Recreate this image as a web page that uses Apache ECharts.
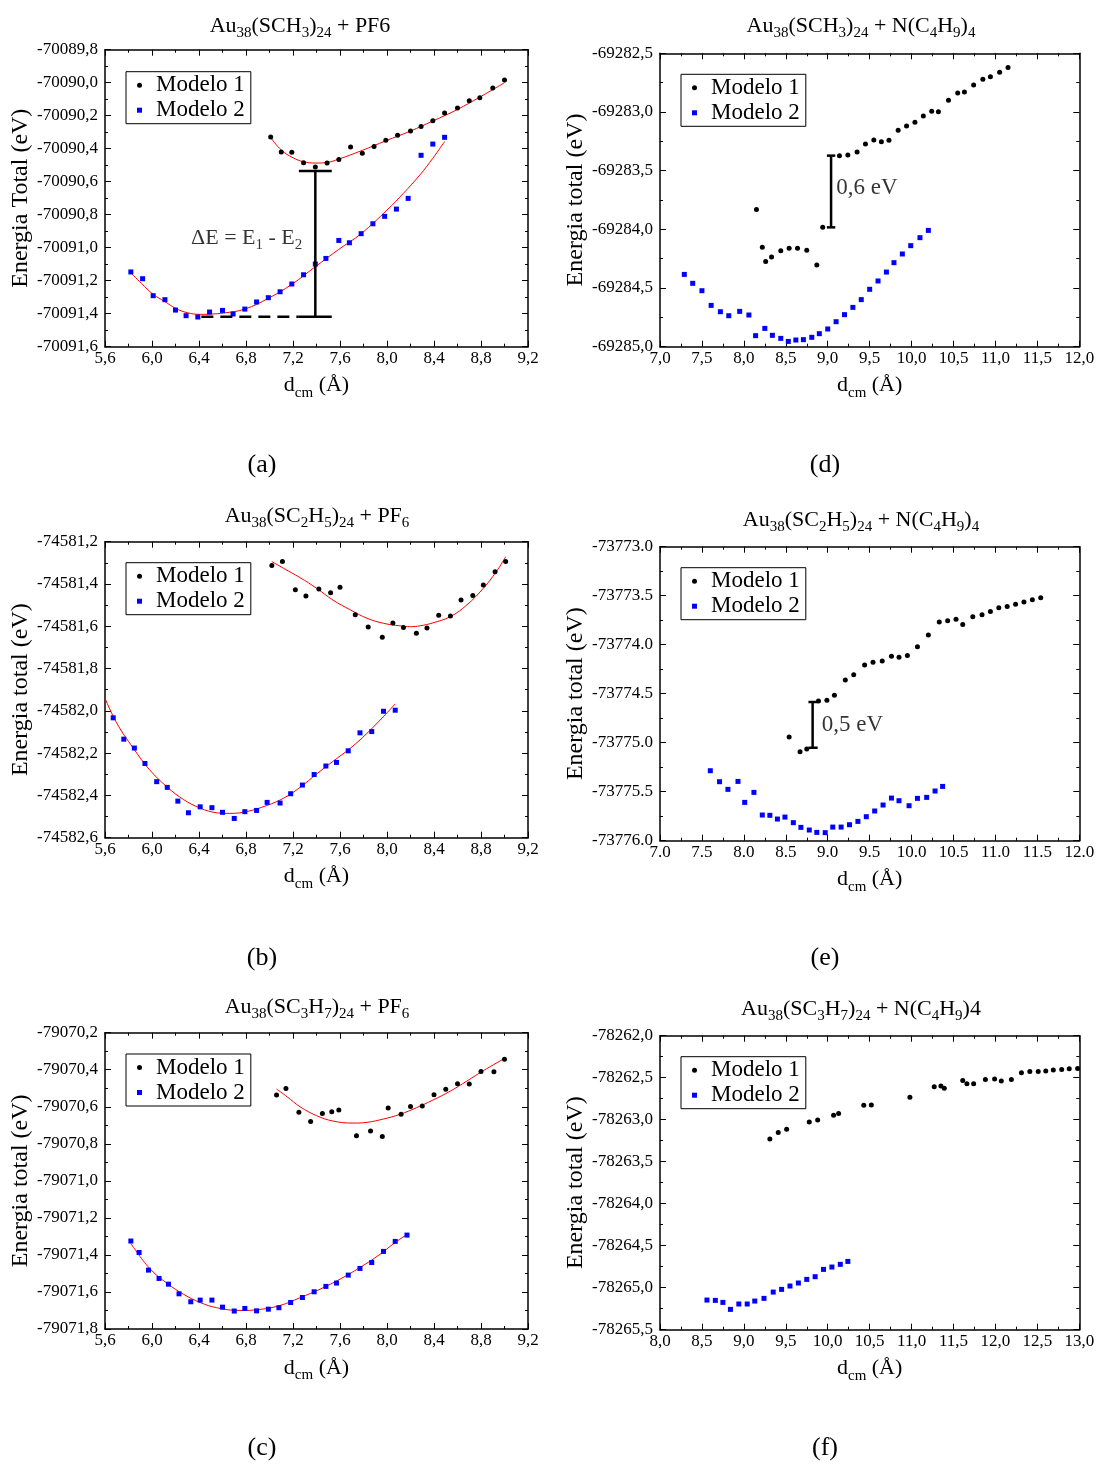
<!DOCTYPE html>
<html>
<head>
<meta charset="utf-8">
<title>Au38 - energia total vs dcm</title>
<script src="https://cdn.jsdelivr.net/npm/echarts@6/dist/echarts.min.js"></script>
<style>
    html, body { margin: 0; padding: 0; background: #fff; }
    #main { width: 1098px; height: 1464px; }
</style>
</head>
<body>
<div id="main"></div>
<script>
// ---- (a) Au38(SCH3)24 + PF6
var a1x = [7.01, 7.10, 7.19, 7.29, 7.39, 7.49, 7.59, 7.69, 7.79, 7.89, 7.99, 8.09, 8.20, 8.29, 8.39, 8.49, 8.60, 8.70, 8.79, 8.90, 9.00];
var a1y = [-70090.329, -70090.420, -70090.422, -70090.485, -70090.511, -70090.487, -70090.465, -70090.390, -70090.428, -70090.386, -70090.349, -70090.319, -70090.293, -70090.265, -70090.230, -70090.184, -70090.154, -70090.109, -70090.091, -70090.032, -70089.984];
var a2x = [5.82, 5.92, 6.01, 6.11, 6.20, 6.29, 6.39, 6.49, 6.60, 6.69, 6.79, 6.89, 6.99, 7.09, 7.19, 7.29, 7.39, 7.48, 7.59, 7.68, 7.78, 7.88, 7.98, 8.08, 8.18, 8.29, 8.39, 8.49];
var a2y = [-70091.147, -70091.188, -70091.291, -70091.315, -70091.378, -70091.412, -70091.420, -70091.390, -70091.380, -70091.402, -70091.372, -70091.329, -70091.303, -70091.267, -70091.220, -70091.164, -70091.099, -70091.065, -70090.956, -70090.970, -70090.915, -70090.855, -70090.810, -70090.766, -70090.701, -70090.440, -70090.372, -70090.331];
// curvas de ajuste
var fitA1x = [7.01, 7.10, 7.20, 7.29, 7.39, 7.49, 7.59, 7.79, 7.99, 8.20, 8.39, 8.60, 8.79, 9.00];
var fitA1y = [-70090.333, -70090.408, -70090.455, -70090.479, -70090.487, -70090.483, -70090.463, -70090.410, -70090.352, -70090.293, -70090.232, -70090.162, -70090.087, -70090.000];
var fitA2x = [5.81, 5.91, 6.01, 6.11, 6.20, 6.30, 6.41, 6.51, 6.61, 6.79, 6.99, 7.19, 7.39, 7.59, 7.78, 8.00, 8.14, 8.28, 8.39, 8.49];
var fitA2y = [-70091.145, -70091.216, -70091.283, -70091.327, -70091.367, -70091.394, -70091.404, -70091.402, -70091.396, -70091.372, -70091.307, -70091.222, -70091.115, -70091.010, -70090.915, -70090.772, -70090.670, -70090.559, -70090.458, -70090.357];

// ---- (d) Au38(SCH3)24 + N(C4H9)4
var d1x = [8.15, 8.22, 8.26, 8.33, 8.44, 8.54, 8.64, 8.75, 8.87, 8.94, 9.14, 9.24, 9.35, 9.45, 9.55, 9.64, 9.73, 9.84, 9.94, 10.04, 10.14, 10.24, 10.32, 10.44, 10.55, 10.63, 10.74, 10.85, 10.94, 11.05, 11.15];
var d1y = [-69283.832, -69284.153, -69284.273, -69284.236, -69284.182, -69284.162, -69284.162, -69284.179, -69284.304, -69283.983, -69283.372, -69283.366, -69283.341, -69283.273, -69283.239, -69283.253, -69283.241, -69283.156, -69283.119, -69283.088, -69283.034, -69282.994, -69282.997, -69282.901, -69282.838, -69282.830, -69282.770, -69282.722, -69282.699, -69282.662, -69282.622];
var d2x = [7.29, 7.39, 7.50, 7.61, 7.72, 7.82, 7.95, 8.06, 8.14, 8.25, 8.34, 8.44, 8.53, 8.62, 8.71, 8.81, 8.90, 9.00, 9.10, 9.20, 9.30, 9.40, 9.50, 9.60, 9.70, 9.79, 9.89, 9.99, 10.10, 10.20];
var d2y = [-69284.384, -69284.460, -69284.523, -69284.648, -69284.702, -69284.736, -69284.699, -69284.730, -69284.906, -69284.844, -69284.903, -69284.929, -69284.955, -69284.943, -69284.940, -69284.920, -69284.889, -69284.849, -69284.787, -69284.727, -69284.665, -69284.599, -69284.511, -69284.440, -69284.364, -69284.284, -69284.210, -69284.139, -69284.071, -69284.009];

// ---- (b) Au38(SC2H5)24 + PF6
var b1x = [7.02, 7.11, 7.22, 7.31, 7.42, 7.52, 7.60, 7.73, 7.84, 7.96, 8.05, 8.14, 8.25, 8.34, 8.44, 8.54, 8.63, 8.73, 8.82, 8.92, 9.01];
var b1y = [-74581.313, -74581.294, -74581.427, -74581.457, -74581.424, -74581.441, -74581.416, -74581.546, -74581.603, -74581.652, -74581.584, -74581.606, -74581.633, -74581.608, -74581.548, -74581.551, -74581.476, -74581.454, -74581.405, -74581.342, -74581.294];
var b2x = [5.67, 5.76, 5.85, 5.94, 6.04, 6.13, 6.22, 6.31, 6.41, 6.51, 6.60, 6.70, 6.79, 6.89, 6.98, 7.09, 7.18, 7.28, 7.38, 7.48, 7.57, 7.67, 7.77, 7.87, 7.97, 8.07];
var b2y = [-74582.033, -74582.134, -74582.176, -74582.249, -74582.335, -74582.362, -74582.427, -74582.482, -74582.454, -74582.458, -74582.480, -74582.509, -74582.477, -74582.471, -74582.433, -74582.436, -74582.392, -74582.351, -74582.301, -74582.261, -74582.244, -74582.189, -74582.104, -74582.098, -74582.002, -74581.997];
var fitB1x = [7.02, 7.12, 7.26, 7.40, 7.54, 7.69, 7.83, 7.97, 8.11, 8.20, 8.28, 8.39, 8.54, 8.68, 8.82, 8.93, 9.01];
var fitB1y = [-74581.294, -74581.326, -74581.370, -74581.420, -74581.476, -74581.523, -74581.562, -74581.586, -74581.598, -74581.602, -74581.598, -74581.584, -74581.554, -74581.499, -74581.420, -74581.342, -74581.271];
var fitB2x = [5.60, 5.70, 5.84, 5.98, 6.13, 6.27, 6.41, 6.55, 6.66, 6.81, 6.98, 7.12, 7.26, 7.40, 7.54, 7.69, 7.83, 7.97, 8.07];
var fitB2y = [-74581.940, -74582.058, -74582.176, -74582.279, -74582.361, -74582.420, -74582.460, -74582.482, -74582.485, -74582.476, -74582.447, -74582.413, -74582.362, -74582.299, -74582.239, -74582.176, -74582.106, -74582.027, -74581.967];

// ---- (e) Au38(SC2H5)24 + N(C4H9)4
var e1x = [8.54, 8.67, 8.75, 8.89, 8.99, 9.08, 9.21, 9.31, 9.44, 9.54, 9.65, 9.76, 9.85, 9.95, 10.07, 10.20, 10.33, 10.43, 10.53, 10.61, 10.73, 10.84, 10.94, 11.04, 11.14, 11.24, 11.34, 11.44, 11.54];
var e1y = [-73774.942, -73775.092, -73775.065, -73774.575, -73774.568, -73774.517, -73774.361, -73774.306, -73774.207, -73774.180, -73774.167, -73774.119, -73774.129, -73774.109, -73774.020, -73773.901, -73773.769, -73773.755, -73773.741, -73773.793, -73773.714, -73773.694, -73773.660, -73773.622, -73773.609, -73773.588, -73773.565, -73773.541, -73773.520];
var e2x = [7.60, 7.71, 7.81, 7.93, 8.01, 8.12, 8.22, 8.31, 8.40, 8.49, 8.59, 8.68, 8.78, 8.87, 8.97, 9.06, 9.16, 9.26, 9.36, 9.46, 9.56, 9.66, 9.76, 9.85, 9.97, 10.07, 10.18, 10.28, 10.37];
var e2y = [-73775.286, -73775.398, -73775.476, -73775.395, -73775.609, -73775.507, -73775.738, -73775.741, -73775.779, -73775.759, -73775.816, -73775.864, -73775.891, -73775.915, -73775.918, -73775.861, -73775.861, -73775.837, -73775.803, -73775.755, -73775.697, -73775.636, -73775.565, -73775.592, -73775.643, -73775.568, -73775.558, -73775.493, -73775.446];

// ---- (c) Au38(SC3H7)24 + PF6
var c1x = [7.06, 7.14, 7.25, 7.35, 7.45, 7.53, 7.59, 7.74, 7.86, 7.96, 8.01, 8.12, 8.20, 8.30, 8.40, 8.50, 8.60, 8.70, 8.80, 8.91, 9.00];
var c1y = [-79070.537, -79070.501, -79070.630, -79070.679, -79070.636, -79070.627, -79070.618, -79070.756, -79070.731, -79070.760, -79070.607, -79070.641, -79070.598, -79070.596, -79070.535, -79070.506, -79070.476, -79070.477, -79070.409, -79070.411, -79070.344];
var c2x = [5.82, 5.89, 5.97, 6.06, 6.14, 6.23, 6.33, 6.41, 6.51, 6.60, 6.70, 6.79, 6.89, 6.99, 7.08, 7.18, 7.28, 7.38, 7.48, 7.57, 7.67, 7.77, 7.87, 7.97, 8.07, 8.17];
var c2y = [-79071.325, -79071.387, -79071.482, -79071.527, -79071.558, -79071.610, -79071.653, -79071.644, -79071.644, -79071.682, -79071.703, -79071.689, -79071.702, -79071.693, -79071.685, -79071.657, -79071.630, -79071.599, -79071.570, -79071.552, -79071.509, -79071.473, -79071.441, -79071.381, -79071.327, -79071.293];
var fitC1x = [7.06, 7.15, 7.26, 7.40, 7.54, 7.71, 7.83, 7.97, 8.11, 8.25, 8.39, 8.54, 8.68, 8.82, 9.00];
var fitC1y = [-79070.504, -79070.546, -79070.600, -79070.648, -79070.677, -79070.688, -79070.684, -79070.666, -79070.641, -79070.605, -79070.564, -79070.515, -79070.461, -79070.405, -79070.339];
var fitC2x = [5.82, 5.98, 6.13, 6.27, 6.41, 6.55, 6.75, 6.92, 7.09, 7.26, 7.43, 7.60, 7.77, 7.94, 8.05, 8.17];
var fitC2y = [-79071.338, -79071.473, -79071.554, -79071.613, -79071.657, -79071.685, -79071.700, -79071.694, -79071.673, -79071.631, -79071.585, -79071.531, -79071.468, -79071.397, -79071.342, -79071.289];

// ---- (f) Au38(SC3H7)24 + N(C4H9)4
var f1x = [9.31, 9.41, 9.51, 9.78, 9.88, 10.07, 10.13, 10.43, 10.52, 10.98, 11.27, 11.35, 11.39, 11.61, 11.66, 11.74, 11.88, 11.99, 12.07, 12.19, 12.31, 12.41, 12.51, 12.60, 12.69, 12.79, 12.88, 12.98];
var f1y = [-78263.230, -78263.151, -78263.115, -78263.028, -78263.004, -78262.948, -78262.925, -78262.829, -78262.825, -78262.734, -78262.607, -78262.599, -78262.627, -78262.532, -78262.571, -78262.571, -78262.520, -78262.516, -78262.540, -78262.520, -78262.440, -78262.425, -78262.425, -78262.421, -78262.409, -78262.401, -78262.393, -78262.389];
var f2x = [8.56, 8.66, 8.75, 8.84, 8.94, 9.04, 9.13, 9.24, 9.35, 9.45, 9.55, 9.65, 9.75, 9.85, 9.95, 10.05, 10.15, 10.24];
var f2y = [-78265.147, -78265.151, -78265.175, -78265.258, -78265.194, -78265.194, -78265.159, -78265.127, -78265.052, -78265.020, -78264.980, -78264.944, -78264.901, -78264.869, -78264.782, -78264.754, -78264.722, -78264.687];

// anotacoes (barras de diferenca de energia)
var gapA = { x: 7.39, y1: -70090.535, y2: -70091.418, capL: 7.25, capR: 7.53, dashL: 6.42 };
var gapD = { x: 9.04, y1: -69283.372, y2: -69283.983, capL: 8.99, capR: 9.09 };
var gapE = { x: 8.82, y1: -73774.585, y2: -73775.051, capL: 8.77, capR: 8.88 };

// eixos: [xmin, xmax, xstep, ymin, ymax, ystep]
var axisRanges = [
    [5.6, 9.2, 0.4, -70091.6, -70089.8, 0.2],
    [7.0, 12.0, 0.5, -69285.0, -69282.5, 0.5],
    [5.6, 9.2, 0.4, -74582.6, -74581.2, 0.2],
    [7.0, 12.0, 0.5, -73776.0, -73773.0, 0.5],
    [5.6, 9.2, 0.4, -79071.8, -79070.2, 0.2],
    [8.0, 13.0, 0.5, -78265.5, -78262.0, 0.5]
];
var yNames = ['Energia Total (eV)', 'Energia total (eV)', 'Energia total (eV)', 'Energia total (eV)', 'Energia total (eV)', 'Energia total (eV)'];
var useComma = [true, true, true, false, true, true];
var titleTexts = [
    '{m|Au}{s|38}{m|(SCH}{s|3}{m|)}{s|24}{m| + PF6}',
    '{m|Au}{s|38}{m|(SCH}{s|3}{m|)}{s|24}{m| + N(C}{s|4}{m|H}{s|9}{m|)}{s|4}',
    '{m|Au}{s|38}{m|(SC}{s|2}{m|H}{s|5}{m|)}{s|24}{m| + PF}{s|6}',
    '{m|Au}{s|38}{m|(SC}{s|2}{m|H}{s|5}{m|)}{s|24}{m| + N(C}{s|4}{m|H}{s|9}{m|)}{s|4}',
    '{m|Au}{s|38}{m|(SC}{s|3}{m|H}{s|7}{m|)}{s|24}{m| + PF}{s|6}',
    '{m|Au}{s|38}{m|(SC}{s|3}{m|H}{s|7}{m|)}{s|24}{m| + N(C}{s|4}{m|H}{s|9}{m|)4}'
];
var captions = ['(a)', '(d)', '(b)', '(e)', '(c)', '(f)'];

// layout
var FONT = 'Liberation Serif';
var grids = [
    { left: 105, top: 49.7, width: 423, height: 297 },
    { left: 660, top: 53.3, width: 419.3, height: 293.4 },
    { left: 105, top: 541.7, width: 423, height: 296 },
    { left: 660, top: 546.7, width: 419.3, height: 294 },
    { left: 105, top: 1032.7, width: 423, height: 296.3 },
    { left: 660, top: 1035.7, width: 419.3, height: 294 }
];
var titlePos = [[300, 11], [861, 11], [317, 501], [861, 505], [317, 992], [861, 994]];
var captionPos = [[262, 452], [825, 452], [262, 945], [825, 945], [262, 1435], [825, 1435]];
var legendPos = [[126, 71.7], [681, 74.3], [126, 562.7], [681, 567.7], [126, 1054], [681, 1056.7]];

var subRich = {
    m: { fontSize: 22, lineHeight: 30, fontFamily: FONT, color: '#000', fontWeight: 'normal' },
    s: { fontSize: 15, lineHeight: 10, verticalAlign: 'bottom', fontFamily: FONT, color: '#000', fontWeight: 'normal' }
};

function pts(xs, ys) {
    return xs.map(function (x, i) { return [x, ys[i]]; });
}

function tickFormatter(comma) {
    return function (v) {
        var s = v.toFixed(1);
        return comma ? s.replace('.', ',') : s;
    };
}

function axisPair(i, isX, main) {
    var r = axisRanges[i];
    var ax = {
        type: 'value',
        gridIndex: i,
        min: isX ? r[0] : r[3],
        max: isX ? r[1] : r[4],
        interval: isX ? r[2] : r[5],
        position: isX ? (main ? 'bottom' : 'top') : (main ? 'left' : 'right'),
        splitLine: { show: false },
        axisLine: { show: true, onZero: false, lineStyle: { color: '#000', width: 1.5 } },
        axisTick: { show: true, inside: true, length: 6, lineStyle: { color: '#000', width: 1 } },
        minorTick: { show: true, splitNumber: 2, length: 3, lineStyle: { color: '#000', width: 1 } },
        axisLabel: { show: false }
    };
    if (main) {
        ax.axisLabel = {
            show: true,
            formatter: tickFormatter(useComma[i]),
            fontFamily: FONT,
            fontSize: 17,
            color: '#000',
            margin: isX ? 3 : 7,
            showMinLabel: true,
            showMaxLabel: true
        };
        ax.nameLocation = 'middle';
        if (isX) {
            ax.name = '{m|d}{s|cm}{m| (\u00C5)}';
            ax.nameGap = 24;
            ax.nameTextStyle = { rich: subRich };
        } else {
            ax.name = yNames[i];
            ax.nameGap = 72;
            ax.nameTextStyle = { fontFamily: FONT, fontSize: 24, color: '#000' };
        }
    }
    return ax;
}

function scatterSeries(name, gi, xs, ys, symbol, color) {
    return {
        name: name,
        type: 'scatter',
        xAxisIndex: gi * 2,
        yAxisIndex: gi * 2,
        symbol: symbol,
        symbolSize: 5,
        itemStyle: { color: color, opacity: 1 },
        z: 3,
        data: pts(xs, ys)
    };
}

function fitSeries(gi, xs, ys) {
    return {
        name: 'ajuste',
        type: 'line',
        xAxisIndex: gi * 2,
        yAxisIndex: gi * 2,
        smooth: 0.4,
        showSymbol: false,
        symbol: 'none',
        lineStyle: { color: '#ff0000', width: 1 },
        z: 2,
        silent: true,
        data: pts(xs, ys)
    };
}

function segSeries(gi, p1, p2, dashed) {
    return {
        type: 'line',
        xAxisIndex: gi * 2,
        yAxisIndex: gi * 2,
        symbol: 'none',
        silent: true,
        lineStyle: { color: '#000', width: 2.5, type: dashed ? [12, 7] : 'solid' },
        z: 4,
        data: [p1, p2]
    };
}

function textSeries(gi, x, y, text, rich) {
    return {
        type: 'scatter',
        xAxisIndex: gi * 2,
        yAxisIndex: gi * 2,
        symbolSize: 1,
        silent: true,
        itemStyle: { color: 'rgba(0,0,0,0)' },
        label: { show: true, position: 'inside', formatter: text, rich: rich },
        data: [[x, y]]
    };
}

function gapSeries(gi, g, dashed) {
    var out = [];
    out.push(segSeries(gi, [g.x, g.y1], [g.x, g.y2], false));
    out.push(segSeries(gi, [g.capL, g.y1], [g.capR, g.y1], false));
    out.push(segSeries(gi, [g.capL, g.y2], [g.capR, g.y2], false));
    if (dashed) {
        out.push(segSeries(gi, [g.dashL, g.y2], [g.capL, g.y2], true));
    }
    return out;
}

var xAxes = [], yAxes = [], titles = [], legends = [], gridOpts = [];
for (var i = 0; i < 6; i++) {
    gridOpts.push({
        left: grids[i].left, top: grids[i].top, width: grids[i].width, height: grids[i].height,
        show: false, containLabel: false, outerBoundsMode: 'none'
    });
    xAxes.push(axisPair(i, true, true));
    xAxes.push(axisPair(i, true, false));
    yAxes.push(axisPair(i, false, true));
    yAxes.push(axisPair(i, false, false));
    titles.push({
        text: titleTexts[i],
        left: titlePos[i][0], top: titlePos[i][1],
        textAlign: 'center',
        padding: 0,
        textStyle: { rich: subRich, fontFamily: FONT, fontWeight: 'normal' }
    });
    titles.push({
        text: captions[i],
        left: captionPos[i][0], top: captionPos[i][1],
        textAlign: 'center',
        padding: 0,
        textStyle: { fontFamily: FONT, fontSize: 26, fontWeight: 'normal', color: '#000', lineHeight: 26 }
    });
    legends.push({
        left: legendPos[i][0], top: legendPos[i][1],
        orient: 'vertical',
        selectedMode: false,
        data: [{ name: 'Modelo 1', icon: 'circle' }, { name: 'Modelo 2', icon: 'rect' }],
        itemWidth: 5, itemHeight: 5, itemGap: 2,
        padding: [2, 6, 2, 11],
        borderColor: '#000', borderWidth: 1, borderRadius: 0,
        backgroundColor: '#fff',
        itemStyle: { opacity: 1 },
        textStyle: { fontFamily: FONT, fontSize: 23, lineHeight: 20, color: '#000', padding: [0, 0, 0, 9] }
    });
}

var series = [
    fitSeries(0, fitA1x, fitA1y),
    fitSeries(0, fitA2x, fitA2y),
    scatterSeries('Modelo 1', 0, a1x, a1y, 'circle', '#000'),
    scatterSeries('Modelo 2', 0, a2x, a2y, 'rect', '#0000ff'),
    scatterSeries('Modelo 1', 1, d1x, d1y, 'circle', '#000'),
    scatterSeries('Modelo 2', 1, d2x, d2y, 'rect', '#0000ff'),
    fitSeries(2, fitB1x, fitB1y),
    fitSeries(2, fitB2x, fitB2y),
    scatterSeries('Modelo 1', 2, b1x, b1y, 'circle', '#000'),
    scatterSeries('Modelo 2', 2, b2x, b2y, 'rect', '#0000ff'),
    scatterSeries('Modelo 1', 3, e1x, e1y, 'circle', '#000'),
    scatterSeries('Modelo 2', 3, e2x, e2y, 'rect', '#0000ff'),
    fitSeries(4, fitC1x, fitC1y),
    fitSeries(4, fitC2x, fitC2y),
    scatterSeries('Modelo 1', 4, c1x, c1y, 'circle', '#000'),
    scatterSeries('Modelo 2', 4, c2x, c2y, 'rect', '#0000ff'),
    scatterSeries('Modelo 1', 5, f1x, f1y, 'circle', '#000'),
    scatterSeries('Modelo 2', 5, f2x, f2y, 'rect', '#0000ff')
];
series = series.concat(gapSeries(0, gapA, true), gapSeries(1, gapD, false), gapSeries(3, gapE, false));

var eVRich = { m: { fontSize: 23, lineHeight: 26, fontFamily: FONT, color: '#000' } };
series.push(textSeries(0, 6.806, -70090.941, '{m|\u0394E = E}{s|1}{m| - E}{s|2}', subRich));
series.push(textSeries(1, 9.468, -69283.648, '{m|0,6 eV}', eVRich));
series.push(textSeries(3, 9.295, -73774.816, '{m|0,5 eV}', eVRich));

var chart = echarts.init(document.getElementById('main'), null, { renderer: 'canvas' });
chart.setOption({
    animation: false,
    backgroundColor: '#fff',
    textStyle: { fontFamily: FONT },
    title: titles,
    legend: legends,
    grid: gridOpts,
    xAxis: xAxes,
    yAxis: yAxes,
    series: series
});
</script>
</body>
</html>
